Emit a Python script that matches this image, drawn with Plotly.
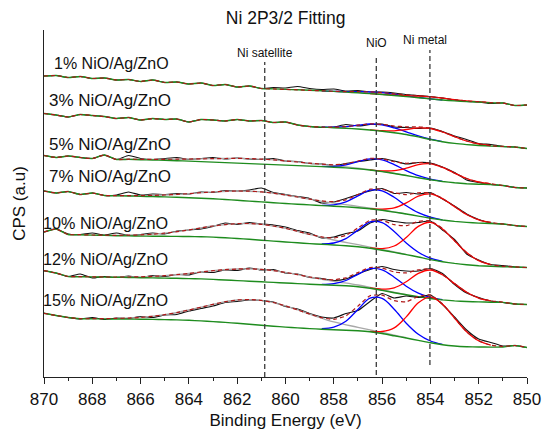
import plotly.graph_objects as go

# ---------------- data (y in arbitrary CPS units, stacked/offset) ----------------
E_GRID = [870.0, 869.5, 869.0, 868.5, 868.0, 867.5, 867.0, 866.5, 866.0, 865.5,
          865.0, 864.5, 864.0, 863.5, 863.0, 862.5, 862.0, 861.5, 861.0, 860.5,
          860.0, 859.5, 859.0, 858.5, 858.0, 857.5, 857.0, 856.5, 856.0, 855.5,
          855.0, 854.5, 854.0, 853.5, 853.0, 852.5, 852.0, 851.5, 851.0, 850.5, 850.0]
E_BLUE = [858.5, 858.0, 857.5, 857.0, 856.5, 856.0, 855.5, 855.0, 854.5, 854.0, 853.5]
E_RED = [856.5, 856.0, 855.5, 855.0, 854.5, 854.0, 853.5, 853.0, 852.5, 852.0, 851.5]
E_GRAY = [867.0, 866.0, 865.0, 864.0, 863.0, 862.0, 861.0, 860.0, 859.0, 858.0, 857.0, 856.0, 855.0]

SAMPLES = ["1% NiO/Ag/ZnO", "3% NiO/Ag/ZnO", "5% NiO/Ag/ZnO", "7% NiO/Ag/ZnO",
           "10% NiO/Ag/ZnO", "12% NiO/Ag/ZnO", "15% NiO/Ag/ZnO"]

# fitted region (high BE, low BE) for each sample
FIT_RANGES = [(861.0, 851.5), (859.0, 851.0), (866.5, 851.5), (867.0, 851.5),
              (869.0, 850.5), (869.0, 851.0), (868.5, 851.0)]

RAW_1 = [301, 301.5, 299.5, 300.5, 298.5, 299, 297, 297.5, 295.5, 297, 294.5, 295, 293, 294,
         291.5, 292.5, 290, 291, 288.5, 289.5, 289, 290.5, 288.5, 287.5, 288, 286, 286.5, 285,
         285, 284, 282.5, 281.5, 280.5, 279, 277, 275.5, 275, 273.5, 274, 271.5, 272]
RAW_3 = [263.5, 262, 260, 262.5, 261.5, 260.5, 258.5, 259.5, 257, 258.5, 257.5, 258, 255, 257.5,
         257, 256, 257.5, 256, 256.5, 254.5, 255, 252, 250.5, 249.5, 250, 252.5, 251, 252.5,
         253, 250, 249.5, 248.5, 249, 245.5, 241, 237.5, 233.5, 232.5, 230.5, 230, 228.5]
RAW_5 = [221.5, 219.5, 221, 219.5, 218.5, 222, 217.5, 221.5, 218.5, 217.5, 218.5, 219.5, 217.5,
         218.5, 219.5, 218, 219, 218, 217.5, 218.5, 216, 215.5, 213.5, 213, 211.5, 213.5, 215.5,
         217, 218.5, 216, 213, 214.5, 214, 210, 204.5, 197, 194.5, 192.5, 191.5, 189.5, 189]
RAW_7 = [186, 184, 185.5, 182.5, 184, 181.5, 182, 185, 182, 183, 182.5, 183.5, 183, 185, 184.5,
         186.5, 186, 187, 189, 184.5, 182.5, 180.5, 178.5, 174, 175, 178.5, 182.5, 186, 188.5,
         183.5, 184.5, 183, 184.5, 178, 171, 163, 157.5, 154, 153, 151.5, 150.5]
RAW_10 = [145, 148, 143, 142.5, 144, 142, 144, 141.5, 142.5, 144, 143, 146, 147, 148, 150.5, 154,
          152.5, 154.5, 153, 152, 150, 146.5, 144, 139, 140, 143.5, 146, 154, 157.5, 155.5, 154,
          154.5, 156, 147, 137.5, 123, 117, 112.5, 111.5, 110, 109.5]
RAW_12 = [106.3, 104, 100.5, 103, 99, 100.5, 99.5, 101, 99.5, 101.5, 100.5, 102.5, 102, 105,
          104.5, 107, 106.5, 109, 107, 107.5, 104, 103, 99.5, 98.5, 96.5, 98, 103, 107.5, 110.5,
          107.5, 106, 106, 108.5, 103.5, 92.5, 84, 79.5, 76, 74.5, 73, 72.5]
RAW_15 = [63.7, 61.5, 59.5, 58, 59.5, 57.5, 59, 58.5, 60.5, 59.5, 62, 62.5, 66, 68.5, 71, 74.5,
          75.5, 77, 76.5, 75, 70.5, 68, 63.5, 60, 59, 63.5, 66.5, 75.5, 83.5, 79, 81, 79.5, 82,
          72.5, 60, 47, 38, 34.5, 31, 31.5, 29.5]

BG_1 = [288.5, 288.1, 287.6, 287.2, 286.7, 286.2, 285.6, 284.9, 284.2, 283.4, 282.5, 281.5,
        280.4, 279.3, 278.1, 277, 276.1, 275.4, 275, 274.2]
BG_3 = [250.5, 249.9, 249.3, 248.7, 248, 247, 245.8, 244.3, 242.5, 240.1, 237.5, 235.3, 233.6,
        232.4, 231.5, 230.9, 230.5]
BG_5 = [217.6, 217.3, 217, 216.7, 216.3, 215.9, 215.4, 214.9, 214.4, 213.9, 213.4, 212.9, 212.4,
        211.9, 211.4, 210.9, 210.4, 209.8, 209.1, 208.2, 207, 205.4, 203.5, 201.5, 199.3, 197.2,
        195.5, 194.2, 193.3, 192.8, 192.5]
BG_7 = [181.2, 181, 180.7, 180.4, 180.1, 179.7, 179.3, 178.8, 178.2, 177.5, 176.7, 175.9, 175.1,
        174.3, 173.5, 172.8, 172.1, 171.4, 170.8, 170.1, 169.3, 168.2, 166.7, 164.9, 163, 160.9,
        158.8, 157, 155.6, 154.6, 153.9, 153.5]
BG_10 = [142.5, 142.2, 141.9, 141.6, 141.3, 141.1, 140.9, 140.8, 140.7, 140.6, 140.5, 140.3,
         139.9, 139.2, 138.5, 137.7, 136.8, 135.9, 135, 134.2, 133.4, 132.7, 132, 131.2, 130.2,
         128.8, 126.8, 124.6, 122.4, 120, 117.4, 115.3, 113.6, 112.3, 111.3, 110.7, 110.3, 110]
BG_12 = [100.5, 100.3, 100.1, 99.9, 99.7, 99.5, 99.3, 99.1, 98.9, 98.7, 98.4, 98.1, 97.6, 97,
         96.4, 95.8, 95.2, 94.6, 94, 93.4, 92.8, 92.3, 91.8, 91.2, 90.3, 88.8, 86.6, 84.3, 82.2,
         80.2, 78.5, 77.1, 76.1, 75.5, 75.1, 74.8, 74.6]
BG_15 = [58.3, 58.2, 58.1, 58, 57.9, 57.8, 57.6, 57.4, 57.1, 56.7, 56.1, 55.4, 54.6, 53.7, 52.7,
         51.7, 50.8, 49.9, 49.1, 48.4, 47.8, 47.3, 46.8, 46.3, 45.3, 43.5, 41.2, 39, 36.6, 34.2,
         32.3, 31, 30.3, 30, 29.9, 30]

ENV_1 = [288.5, 288.1, 287.6, 287.2, 286.7, 286.2, 285.7, 285.4, 285.3, 285.1, 284.3, 283.2,
         282.1, 281.2, 280.2, 278.8, 277.3, 276.1, 275.3, 274.3]
ENV_3 = [250.5, 250, 249.8, 250.3, 251.8, 253.1, 252.6, 251, 250.2, 250.2, 248.8, 245.1, 240.3,
         236, 233, 231.4, 230.6]
ENV_5 = [217.8, 217.7, 217.6, 217.7, 217.8, 218, 218.1, 218.4, 218.5, 218.6, 218.4, 217.9, 217.1,
         216.1, 215, 213.8, 212.8, 212.2, 213.2, 216, 218.7, 218, 215.3, 213.7, 214.4, 213.8,
         209.7, 203.9, 198.5, 195, 193.2]
ENV_7 = [181.4, 181.4, 181.4, 181.6, 182, 182.6, 183.4, 184.3, 185.1, 185.8, 186, 185.8, 185.1,
         183.8, 182, 180, 177.9, 176.1, 175.3, 177.2, 182.5, 187.8, 187.8, 184.2, 182.4, 184.2,
         184.1, 178.6, 170.4, 162.5, 157.2, 154.6]
ENV_10 = [142.5, 142.3, 142, 141.8, 141.7, 141.8, 142.1, 142.8, 143.8, 145.3, 147.1, 149.1, 151,
          152.4, 153.4, 153.5, 152.7, 151, 148.6, 145.7, 142.6, 140.1, 139, 141.7, 149.1, 156.7,
          156.7, 152.3, 151.3, 155.5, 156.1, 148.4, 136.2, 124.4, 116.3, 112.3, 110.7, 110.1]
ENV_12 = [100.5, 100.3, 100.2, 100, 100, 100, 100.2, 100.6, 101.3, 102.3, 103.5, 105, 106.3,
          107.3, 108, 108.2, 107.6, 106.4, 104.6, 102.4, 100, 98.1, 97.2, 99.2, 104.4, 109.5, 109,
          105, 104.1, 107.2, 108.1, 102.4, 93.4, 84.8, 78.9, 76.1, 74.9]
ENV_15 = [58.3, 58.3, 58.4, 58.6, 58.9, 59.6, 60.7, 62.3, 64.4, 67, 69.8, 72.7, 75.3, 77, 77.5,
          76.6, 74.5, 71.1, 67.1, 62.9, 59.3, 57.6, 61.1, 70.9, 81.3, 81.8, 76.3, 75.2, 80.5, 82,
          73.2, 58.9, 45.3, 36.2, 31.9, 30.5]

NIO_1 = [286.2, 285.7, 285.4, 285.3, 285.1, 284.3, 282.8, 281.1, 279.6, 278.2, 277]
NIO_3 = [250, 249.8, 250.3, 251.8, 253, 252.1, 249.1, 245.2, 241.2, 237.8, 235.4]
NIO_5 = [210.6, 210.6, 212.1, 215.3, 218.2, 217.1, 212.4, 206.4, 201.3, 197.8, 195.6]
NIO_7 = [171.7, 172.2, 175.1, 181.1, 186.8, 186.2, 179.7, 171.2, 164.3, 159.8, 157.2]
NIO_10 = [133.1, 134, 138.3, 146.9, 155.1, 154.4, 145.5, 134, 124.8, 118.8, 115.6]
NIO_12 = [92.6, 93.3, 96.5, 102.7, 108.3, 107.1, 99.8, 90.8, 83.8, 79.6, 77.3]
NIO_15 = [48.3, 49.8, 55.8, 67.5, 78.8, 78.6, 67.8, 53.8, 42.7, 36, 32.7]

NI_1 = [283.4, 282.6, 281.8, 281.3, 280.9, 280.1, 278.8, 277.3, 276.1, 275.3, 274.3]
NI_3 = [247.1, 246.3, 246.2, 247.5, 249.1, 248.5, 245, 240.3, 236, 233, 231.4]
NI_5 = [207.1, 206.1, 206.3, 208.8, 212.4, 213.2, 209.6, 203.9, 198.5, 195, 193.2]
NI_7 = [168.4, 167.8, 169.1, 174.1, 180.8, 183.1, 178.4, 170.4, 162.5, 157.2, 154.6]
NI_10 = [129.1, 128.4, 131, 139.5, 150.6, 154.7, 148.1, 136.2, 124.4, 116.3, 112.3]
NI_12 = [89, 87.9, 89.2, 95.3, 103.6, 107, 102.2, 93.4, 84.8, 78.9, 76.1]
NI_15 = [45.7, 45.5, 49.1, 60.1, 74.3, 80.2, 72.8, 58.9, 45.3, 36.2, 31.9]

SAT_1 = None
SAT_3 = None
SAT_5 = [217.8, 217.7, 217.7, 218, 218.4, 218.6, 217.9, 216.1, 213.8, 211.4, 208.9, 205.6, 201.6]
SAT_7 = [181.4, 181.4, 182, 183.4, 185.1, 186, 185.1, 182, 177.9, 173.9, 170.7, 167.2, 163.1]
SAT_10 = [141.7, 142.1, 143.8, 147.1, 151, 153.4, 152.7, 148.6, 142.6, 137, 132.4, 127.5, 122.6]
SAT_12 = [100, 100.2, 101.3, 103.5, 106.3, 108, 107.6, 104.6, 100, 95.7, 92, 87.2, 82.4]
SAT_15 = [58.6, 59.6, 62.3, 67, 72.7, 77, 76.6, 71.1, 62.9, 55.1, 49.7, 44.7, 39.3]

PEAK_POSITIONS = [860.86, 856.24, 854.02]
PEAK_NAMES = ["Ni satellite", "NiO", "Ni metal"]

RAWS = [RAW_1, RAW_3, RAW_5, RAW_7, RAW_10, RAW_12, RAW_15]
BGS = [BG_1, BG_3, BG_5, BG_7, BG_10, BG_12, BG_15]
ENVS = [ENV_1, ENV_3, ENV_5, ENV_7, ENV_10, ENV_12, ENV_15]
NIOS = [NIO_1, NIO_3, NIO_5, NIO_7, NIO_10, NIO_12, NIO_15]
NIS = [NI_1, NI_3, NI_5, NI_7, NI_10, NI_12, NI_15]
SATS = [SAT_1, SAT_3, SAT_5, SAT_7, SAT_10, SAT_12, SAT_15]

# ---------------- layout constants ----------------
FONT = "Arial, Liberation Sans, sans-serif"
LABEL_Y = [313.7, 277.0, 232.7, 200.3, 153.7, 117.7, 77.0]
LABEL_SHIFT = [8.2, 2.7, 2.7, 2.7, -2.9, -2.9, -2.9]      # px from the 870 eV edge
LABEL_SIZE = [16, 17, 17, 17, 16.2, 16.2, 16.2]
REF_SPAN = [(0, 315), (2, 322), (12, 327)]          # y extent of dashed guide lines
REF_TEXT = [(860.86, 324), (856.24, 334), (854.24, 337)]

C_RAW = "#111111"
C_ENV = "#b01818"
C_BG = "#1e8c1e"
C_NIO = "#0000ff"
C_NI = "#ff0000"
C_SAT = "#a8a8a8"

fig = go.Figure()

for k in range(len(SAMPLES)):
    raw, bg, env = RAWS[k], BGS[k], ENVS[k]
    hi, lo = FIT_RANGES[k]
    i_hi, i_lo = E_GRID.index(hi), E_GRID.index(lo)
    fit_x = E_GRID[i_hi:i_lo + 1]
    full_x = E_GRID[:i_hi] + fit_x + E_GRID[i_lo + 1:]
    bg_y = raw[:i_hi] + bg + raw[i_lo + 1:]
    env_y = raw[:i_hi] + env + raw[i_lo + 1:]

    fig.add_trace(go.Scatter(x=E_GRID, y=raw, mode="lines",
                             line=dict(color=C_RAW, width=1.1, shape="spline", smoothing=0.5),
                             hoverinfo="skip", showlegend=False))
    if SATS[k] is not None:
        fig.add_trace(go.Scatter(x=E_GRAY, y=SATS[k], mode="lines",
                                 line=dict(color=C_SAT, width=1.3, shape="spline"),
                                 hoverinfo="skip", showlegend=False))
    fig.add_trace(go.Scatter(x=E_BLUE, y=NIOS[k], mode="lines",
                             line=dict(color=C_NIO, width=1.3, shape="spline"),
                             hoverinfo="skip", showlegend=False))
    fig.add_trace(go.Scatter(x=E_RED, y=NIS[k], mode="lines",
                             line=dict(color=C_NI, width=1.3, shape="spline"),
                             hoverinfo="skip", showlegend=False))
    fig.add_trace(go.Scatter(x=full_x, y=bg_y, mode="lines",
                             line=dict(color=C_BG, width=1.4, shape="spline", smoothing=0.5),
                             hoverinfo="skip", showlegend=False))
    fig.add_trace(go.Scatter(x=full_x, y=env_y, mode="lines",
                             line=dict(color=C_ENV, width=1.2, dash="4px,3px",
                                       shape="spline", smoothing=0.5),
                             hoverinfo="skip", showlegend=False))
    fig.add_annotation(x=E_GRID[0], y=LABEL_Y[k], xshift=LABEL_SHIFT[k], text=SAMPLES[k],
                       showarrow=False, xanchor="left", yanchor="middle",
                       font=dict(family=FONT, size=LABEL_SIZE[k], color="#111111"))

for e, (y0, y1), (tx, ty), name in zip(PEAK_POSITIONS, REF_SPAN, REF_TEXT, PEAK_NAMES):
    fig.add_shape(type="line", xref="x", yref="y", x0=e, x1=e, y0=y0, y1=y1,
                  line=dict(color="#3a3a3a", width=1.3, dash="5px,3px"), layer="above")
    fig.add_annotation(x=tx, y=ty, text=name, showarrow=False, xanchor="center",
                       yanchor="middle", font=dict(family=FONT, size=12, color="#111111"))

fig.update_layout(
    width=544, height=432,
    margin=dict(l=44, r=17, t=30, b=55, autoexpand=False),
    paper_bgcolor="white", plot_bgcolor="white",
    font=dict(family=FONT, color="#111111"),
    title=dict(text="Ni 2P3/2 Fitting", x=0.525, xanchor="center", y=0.958, yanchor="middle",
               font=dict(family=FONT, size=17.5, color="#111111")),
    showlegend=False,
    xaxis=dict(range=[870, 850], tickmode="linear", tick0=850, dtick=2,
               ticks="outside", ticklen=6, tickwidth=1.2, tickcolor="#222222",
               minor=dict(ticks="outside", ticklen=3, tickwidth=1.1, dtick=1, tickcolor="#222222"),
               showline=True, linecolor="#222222", linewidth=1.3, showgrid=False, zeroline=False,
               tickfont=dict(family=FONT, size=17, color="#111111"),
               title=dict(text="Binding Energy (eV)", standoff=6,
                          font=dict(family=FONT, size=17, color="#111111")),
               automargin=False),
    yaxis=dict(range=[0, 347], showticklabels=False, ticks="", showline=True,
               linecolor="#222222", linewidth=1.3, showgrid=False, zeroline=False,
               title=dict(text="CPS (a.u)", standoff=12,
                          font=dict(family=FONT, size=17, color="#111111")),
               automargin=False),
)

fig.write_html("out.html", config={"displayModeBar": False},
               post_script="document.body.style.margin='0';document.body.style.overflow='hidden';")
